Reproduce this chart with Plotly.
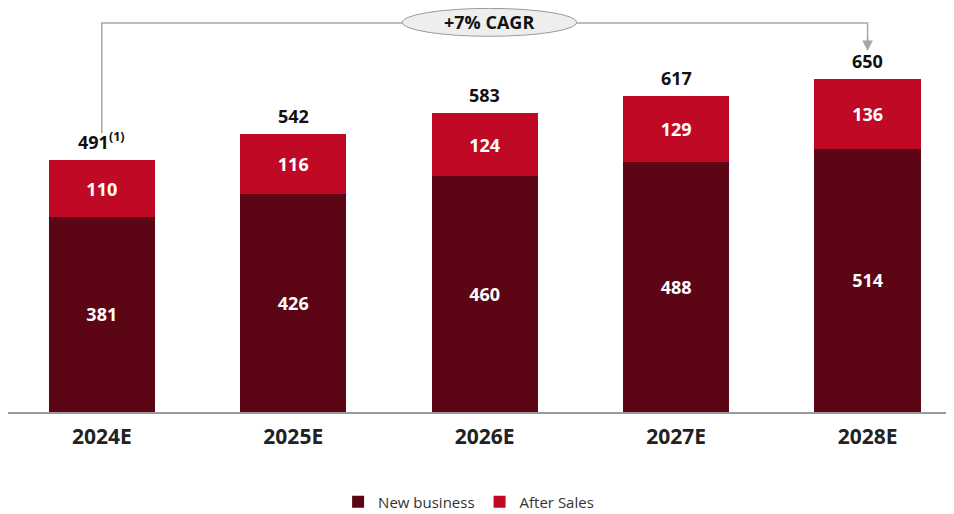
import plotly.graph_objects as go

years = ["2024E", "2025E", "2026E", "2027E", "2028E"]
new_business = [381, 426, 460, 488, 514]
after_sales = [110, 116, 124, 129, 136]
totals = [491, 542, 583, 617, 650]
total_labels = ["491<sup>(1)</sup>", "542", "583", "617", "650"]
cagr_label = "+7% CAGR"

DARK = "#5c0514"
RED = "#c00a25"
FONT = "Open Sans"

xs = list(range(len(years)))

fig = go.Figure()
fig.add_trace(go.Bar(
    x=xs, y=new_business, name="New business",
    marker=dict(color=DARK, line=dict(width=0)),
    width=0.555, text=[str(v) for v in new_business], textposition="inside",
    insidetextanchor="middle",
    textfont=dict(family=FONT, size=18, color="white", weight="bold"),
    hoverinfo="skip",
))
fig.add_trace(go.Bar(
    x=xs, y=after_sales, name="After Sales",
    marker=dict(color=RED, line=dict(width=0)),
    width=0.555, text=[str(v) for v in after_sales], textposition="inside",
    insidetextanchor="middle",
    textfont=dict(family=FONT, size=18, color="white", weight="bold"),
    hoverinfo="skip",
))

for i, (t, lab) in enumerate(zip(totals, total_labels)):
    fig.add_annotation(
        x=i, y=t, text=f"<b>{lab}</b>", showarrow=False, yanchor="bottom",
        yshift=4, font=dict(family=FONT, size=18, color="#111"),
    )

GRAY = "#a6a6a6"
# bracket
fig.add_shape(type="path", xref="x", yref="paper",
              path="M 0,0.6906 L 0,0.9629 L 4,0.9629 L 4,0.915",
              line=dict(color=GRAY, width=1.5))
fig.add_annotation(x=4, y=0.8936, xref="x", yref="paper",
                   ax=0, ay=-14,
                   text="", showarrow=True, arrowhead=2, arrowsize=1.4,
                   arrowwidth=1.5, arrowcolor=GRAY)
fig.add_shape(type="circle", xref="x", yref="paper",
              x0=1.57, x1=2.48, y0=0.930, y1=0.999,
              fillcolor="#eeeeee", line=dict(color="#9a9a9a", width=1))
fig.add_annotation(x=2.025, y=0.966, xref="x", yref="paper",
                   xanchor="center", yanchor="middle",
                   text=f"<b>{cagr_label}</b>", showarrow=False,
                   font=dict(family=FONT, size=18, color="#111"))

fig.update_layout(
    barmode="stack",
    width=954, height=514,
    margin=dict(l=0, r=14, t=0, b=110),
    plot_bgcolor="white", paper_bgcolor="white",
    font=dict(family=FONT, color="#222"),
    showlegend=True,
    legend=dict(orientation="h", x=0.49, xanchor="center", y=-0.223, yanchor="middle",
                font=dict(family=FONT, size=15, color="#333"),
                itemwidth=30, traceorder="normal"),
)
fig.update_xaxes(
    range=[-0.49, 4.42], tickvals=xs, ticktext=years,
    tickfont=dict(family=FONT, size=21, color="#222", weight="bold"),
    showline=True, linecolor="#999999", linewidth=2, showgrid=False,
    zeroline=False, ticks="", ticklabelstandoff=5,
)
fig.update_yaxes(range=[0, 788.6], visible=False, showgrid=False, zeroline=False)

fig.write_html("out.html")
